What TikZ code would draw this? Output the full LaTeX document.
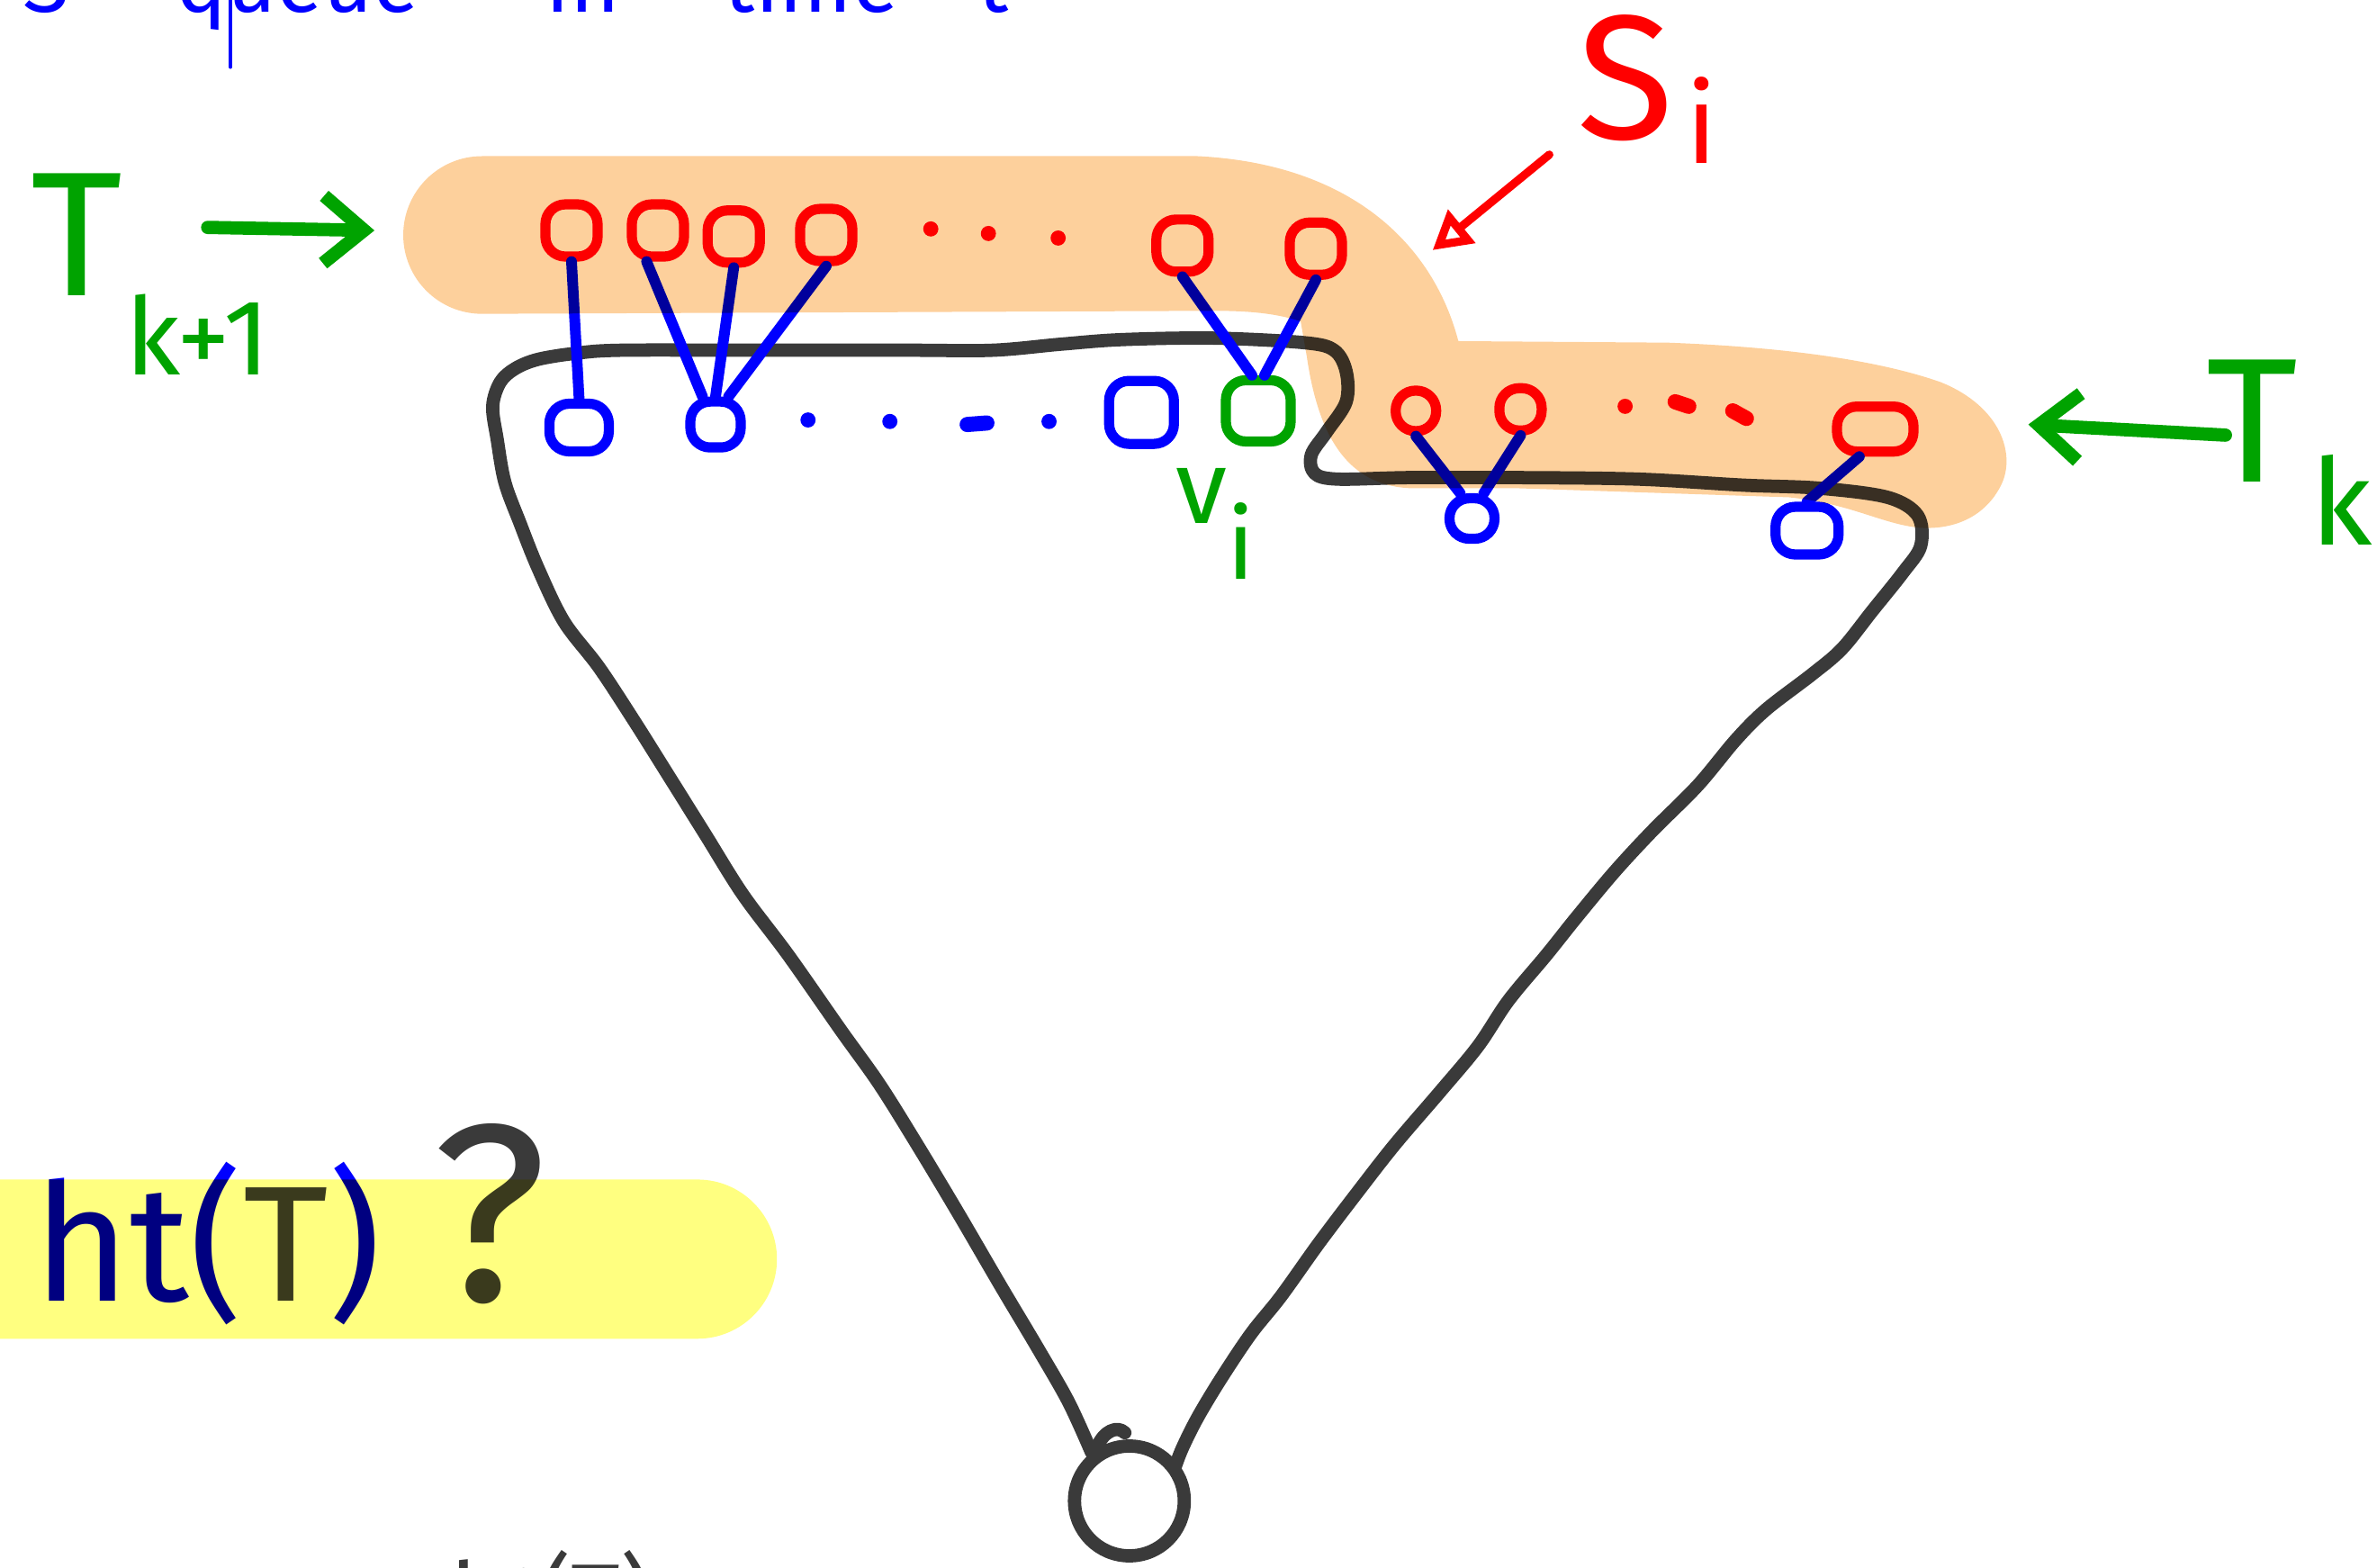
\documentclass[tikz,border=0pt]{standalone}
\usepackage{fontspec}
\setmainfont{Fira Sans}
\usetikzlibrary{arrows.meta}
\definecolor{penred}{HTML}{FF0000}
\definecolor{penblue}{HTML}{0000FF}
\definecolor{pengreen}{HTML}{00A300}
\definecolor{pengray}{HTML}{3A3A3A}
\definecolor{hlorange}{HTML}{FDD09C}
\definecolor{hlyellow}{HTML}{FFFF80}

\begin{document}
\begin{tikzpicture}[
  x=0.01684cm,y=-0.01684cm,
  line cap=round,line join=round,
  rv/.style={draw=penred,line width=3.2pt,rounded corners=0.22cm,inner sep=0pt,minimum width=0.58cm,minimum height=0.58cm},
  bv/.style={rv,draw=penblue},
  gv/.style={rv,draw=pengreen},
  link/.style={draw=penblue,line width=3.4pt},
  garr/.style={draw=pengreen,line width=4.2pt,-{Straight Barb[length=4.5mm,width=7.5mm]}},
  rarr/.style={draw=penred,line width=2.6pt,-{Triangle[open,length=4.2mm,width=4.6mm]}},
  tree/.style={draw=pengray,line width=4.2pt},
  lab/.style={inner sep=0pt,anchor=base west},
  big/.style={font=\fontsize{56}{60}\selectfont}
]
\useasboundingbox (0,0) rectangle (1568,1034);

% ---------------- cut-off lines at top and bottom
\node[lab,text=penblue,font=\fontsize{27}{30}\selectfont] (qtxt) at (15,8)
  {S\hspace{10pt}=\hspace{10pt}queue\hspace{40pt}in\hspace{33pt}time\hspace{25pt}t};
\draw[penblue,line width=1.4pt] (152,-5) -- (152,44);
\node[anchor=north west,inner sep=0pt,text=pengray,font=\fontsize{30}{34}\selectfont] (htb) at (297,1022) {ht(T)};

% ---------------- labels
\node[lab,text=penred,big] (si) at (1040,92) {S\hspace{4pt}\raisebox{-7.6pt}{\fontsize{35}{40}\selectfont i}};
\node[lab,text=pengreen,big] (tkp) at (20,195) {T\hspace{1pt}\raisebox{-25pt}{\fontsize{34}{40}\selectfont k+1}};
\node[lab,text=pengreen,big] (tk) at (1455,318) {T\hspace{4pt}\raisebox{-20pt}{\fontsize{38}{40}\selectfont k}};
\node[lab,text=pengreen,font=\fontsize{33}{36}\selectfont] (vl) at (775,345) {v\raisebox{-17.7pt}{\fontsize{31}{34}\selectfont i}};
\node[lab,font=\fontsize{52}{56}\selectfont] (ht) at (22,858)
  {\textcolor{penblue}{ht(}\textcolor{pengray}{T}\textcolor{penblue}{)}\hspace{16pt}\textcolor{pengray}{\fontsize{80}{90}\selectfont ?}};

% ---------------- arrows
\coordinate (ga1) at (137,150);
\coordinate (ga2) at (247,152);
\coordinate (gb1) at (1468,287);
\coordinate (gb2) at (1338,280);
\coordinate (ra1) at (1022,102);
\coordinate (ra2) at (945,165);
\draw[garr] (ga1) -- (ga2);
\draw[garr] (gb1) -- (gb2);
\draw[rarr] (ra1) -- (ra2);

% ---------------- the tree
\draw[tree] plot[smooth,tension=0.55] coordinates {
  (720,958) (705,925) (685,890) (660,848) (632,800) (605,755) (580,715) (555,680)
  (520,630) (490,590) (465,550) (440,510) (418,475) (395,440) (372,410) (355,375)
  (343,345) (333,318) (328,290) (325,268) (330,252) (340,243) (355,237) (380,233)
  (410,231) (500,231) (600,231) (655,231) (700,227) (740,224) (800,223) (860,226)
  (880,231) (888,245) (888,265) (875,285) (865,300) (867,312) (882,316) (930,315)
  (1000,315) (1080,316) (1150,320) (1200,322) (1245,328) (1265,340) (1267,360)
  (1255,378) (1235,403) (1215,428) (1195,445) (1165,468) (1145,488) (1120,518)
  (1090,548) (1065,575) (1040,605) (1020,630) (995,660) (975,690) (950,720)
  (920,755) (895,787) (870,820) (845,855) (825,880) (805,910) (790,935) (780,955) (775,968)};
\node[draw=pengray,line width=4.2pt,circle,minimum size=1.22cm,inner sep=0pt] (root) at (745,990) {};
\draw[tree] (724,954) .. controls (728,944) and (737,940) .. (742,945);

% ---------------- S_i : upper row
\node[rv] (r1) at (377,152) {};
\node[rv] (r2) at (434,152) {};
\node[rv] (r3) at (484,156) {};
\node[rv] (r4) at (545,155) {};
\node[rv] (r5) at (780,162) {};
\node[rv] (r6) at (868,164) {};
\foreach \x/\y in {614/151,652/154,698/157} \fill[penred] (\x,\y) circle[radius=5];

% ---------------- S_i : lower row
\node[rv,minimum width=0.45cm,minimum height=0.45cm] (s1) at (934,271) {};
\node[rv,minimum width=0.47cm,minimum height=0.47cm] (s2) at (1003,270) {};
\node[rv,minimum width=0.85cm,minimum height=0.5cm] (s3) at (1237,283) {};
\fill[penred] (1072,268) circle[radius=5];
\draw[penred,line width=4.8pt] (1105,265) -- (1114,268);
\draw[penred,line width=4.8pt] (1143,271) -- (1152,276);

% ---------------- vertices of T_k
\node[bv,minimum width=0.66cm,minimum height=0.53cm] (b1) at (382,282) {};
\node[bv,minimum width=0.56cm,minimum height=0.51cm] (b2) at (472,280) {};
\node[bv,minimum width=0.72cm,minimum height=0.7cm] (b3) at (753,272) {};
\node[gv,minimum width=0.72cm,minimum height=0.68cm] (vi) at (830,271) {};
\node[bv,minimum width=0.5cm,minimum height=0.45cm] (c1) at (971,342) {};
\node[bv,minimum width=0.7cm,minimum height=0.53cm] (c2) at (1192,350) {};
\foreach \x/\y in {533/277,587/278,692/278} \fill[penblue] (\x,\y) circle[radius=5];
\draw[penblue,line width=4.8pt] (638,280) -- (651,279);

% ---------------- children -> parents
\draw[link] (r1.south) -- (b1.north);
\draw[link] (r2.250) -- (b2.115);
\draw[link] (r3.south) -- (b2.north);
\draw[link] (r4.south) -- (b2.65);
\draw[link] (r5.south) -- (vi.100);
\draw[link] (r6.south) -- (vi.80);
\draw[link] (s1.south) -- (c1.115);
\draw[link] (s2.south) -- (c1.65);
\draw[link] (s3.240) -- (c2.north);

% ---------------- highlighter
\begin{scope}[blend mode=multiply]
  \fill[hlorange] (318,207) arc[start angle=90,end angle=270,radius=52]
    -- (790,103) .. controls (890,108) and (945,160) .. (962,225)
    -- (1100,226) .. controls (1180,229) and (1240,238) .. (1280,252)
    .. controls (1320,268) and (1330,300) .. (1320,320)
    .. controls (1310,340) and (1290,350) .. (1265,348)
    .. controls (1240,345) and (1220,332) .. (1180,328)
    -- (1000,322) -- (930,322) .. controls (890,320) and (870,290) .. (862,235)
    -- (858,212) .. controls (840,206) and (820,205) .. (800,205) -- cycle;
  \fill[hlyellow] (-10,778) -- (460,778) arc[start angle=270,end angle=450,radius=52.5] -- (-10,883) -- cycle;
\end{scope}
\end{tikzpicture}
\end{document}
